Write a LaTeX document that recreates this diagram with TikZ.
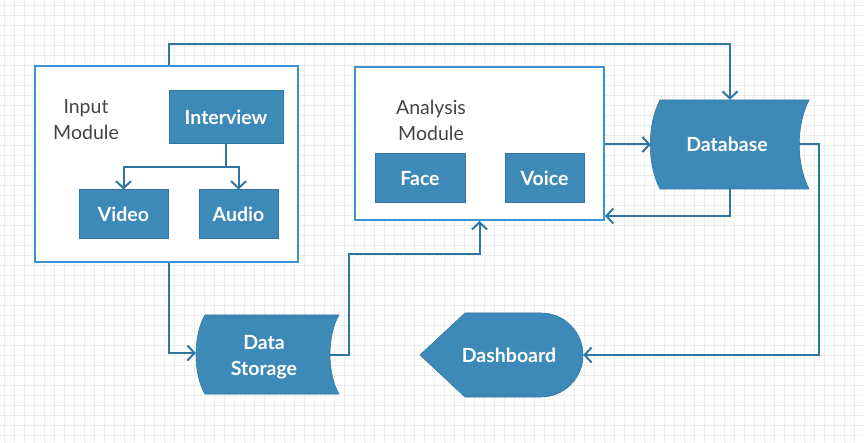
\documentclass[tikz,border=0pt]{standalone}
\usepackage{fontspec}
\setmainfont{Lato}
\usetikzlibrary{arrows.meta,calc}
\definecolor{boxfill}{HTML}{3D8AB9}
\definecolor{boxline}{HTML}{2F76A2}
\definecolor{connc}{HTML}{2E77A2}
\definecolor{contc}{HTML}{3D93D8}
\definecolor{gridc}{HTML}{EDEDED}
\definecolor{labc}{HTML}{444444}
\tikzset{
  box/.style={draw=boxline, line width=1pt, fill=boxfill, text=white, font=\fontsize{19.5}{26}\selectfont\bfseries, inner sep=0pt},
  container/.style={draw=contc, line width=2pt, fill=white, inner sep=0pt},
  shp/.style={inner sep=0pt, text=white, font=\fontsize{19.5}{26}\selectfont\bfseries, align=center},
  shpfill/.style={fill=boxfill, draw=boxline, line width=0.6pt},
  lab/.style={text=labc, font=\fontsize{19.5}{26}\selectfont, align=center},
  conn/.style={draw=connc, line width=2pt, -{Straight Barb[length=7pt,width=15pt,line width=2pt]}},
  plain/.style={draw=connc, line width=2pt}
}
\begin{document}
\begin{tikzpicture}[x=1pt,y=-1pt]
\useasboundingbox (0,0) rectangle (864,443);
\fill[white] (0,0) rectangle (864,443);
% grid
\foreach \i in {0,...,86} \draw[gridc, line width=0.7pt] (4.5+10*\i,0) -- (4.5+10*\i,443);
\foreach \j in {0,...,44} \draw[gridc, line width=0.7pt] (0,5+10*\j) -- (864,5+10*\j);

% containers
\node[container, minimum width=263pt, minimum height=196pt] (inp) at (166.5,164.5) {};
\node[container, minimum width=249pt, minimum height=153pt] (ana) at (479.5,143.5) {};

\node[lab] (inplab) at (86,119.5) {Input\\Module};
\node[lab] (analab) at (431,120) {Analysis\\Module};

% boxes
\node[box, minimum width=114pt, minimum height=53pt] (inter) at (226,117.5) {Interview};
\node[box, minimum width=89pt, minimum height=49pt] (video) at (123.5,214.5) {Video};
\node[box, minimum width=79pt, minimum height=49pt] (audio) at (238.5,214.5) {Audio};
\node[box, minimum width=90pt, minimum height=49pt] (face) at (420,178.5) {Face};
\node[box, minimum width=79pt, minimum height=49pt] (voice) at (544.5,178.5) {Voice};

% Database shape
\path[shpfill] (660,100) -- (809,100) .. controls (796,125) and (796,164) .. (809,189)
  -- (660,189) .. controls (647,164) and (647,125) .. (660,100) -- cycle;
\node[shp, minimum width=158pt, minimum height=89pt] (db) at (730,144.5) {\hspace*{-6pt}\raisebox{-2pt}{Database}};
\coordinate (dbR) at (799,144.5);

% Data Storage shape
\path[shpfill] (205,315) -- (339,315) .. controls (327,335) and (327,374) .. (339,394)
  -- (205,394) .. controls (193,374) and (193,335) .. (205,315) -- cycle;
\node[shp, minimum width=143pt, minimum height=79pt] (ds) at (267.5,357.5) {\hspace*{-7pt}Data\\\hspace*{-7pt}Storage};
\coordinate (dsR) at (330,354.5);

% Dashboard shape
\path[shpfill] (420,355) -- (465,313) -- (541,313) arc (-90:90:42) -- (465,397) -- cycle;
\node[shp, minimum width=163pt, minimum height=84pt] (dash) at (501.5,355) {\hspace*{15pt}Dashboard};

% connectors inside input module
\draw[plain] (inter.south) -- ++(0,23) coordinate (jn);
\draw[conn] (jn) -| (video.north);
\draw[conn] (jn) -| (audio.north);

% outer connectors
\draw[conn] ($(inp.north)+(2.5,0)$) -- ++(0,-21.5) -| (db.north);
\draw[conn] (ana.east |- db.west) -- (db.west);
\draw[conn] (db.south) |- ($(ana.south east)+(0,-5)$);
\draw[conn] (dbR) -- (819,144.5) |- (dash.east);
\draw[conn] ($(inp.south)+(2.5,0)$) |- ($(ds.west)+(0,-4.5)$);
\draw[conn] (dsR) -- (349,354.5) -- (349,254) -| (ana.south);
\end{tikzpicture}
\end{document}
